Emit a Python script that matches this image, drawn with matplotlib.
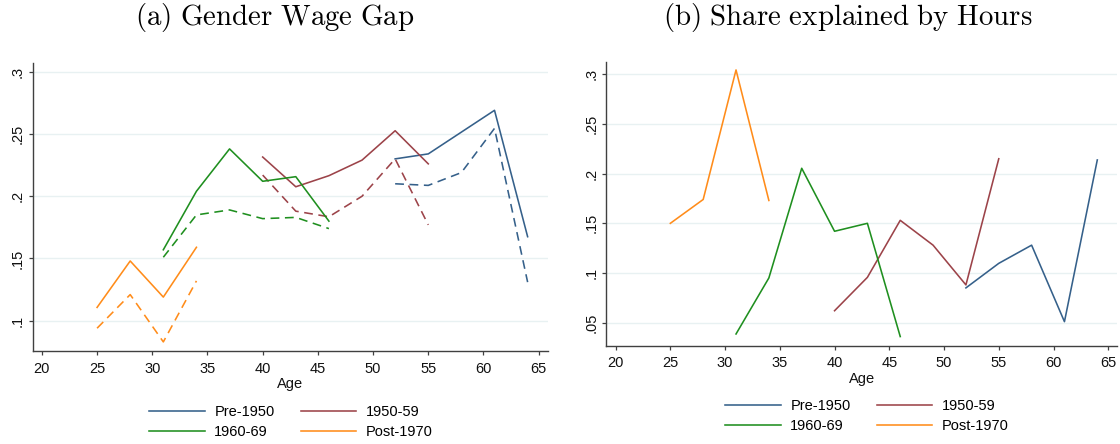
import numpy as np
import matplotlib
matplotlib.use('Agg')
from matplotlib import pyplot as plt

plt.rcParams['font.family'] = ['Liberation Sans', 'DejaVu Sans']
plt.rcParams['mathtext.fontset'] = 'cm'

# cohort colours
cohorts = ['Pre-1950', '1950-59', '1960-69', 'Post-1970']
colors = {'Pre-1950': '#35608a', '1950-59': '#9c4349',
          '1960-69': '#1f8f1f', 'Post-1970': '#ff8c1a'}

ages = {'Pre-1950': [52, 55, 58, 61, 64],
        '1950-59': [40, 43, 46, 49, 52, 55],
        '1960-69': [31, 34, 37, 40, 43, 46],
        'Post-1970': [25, 28, 31, 34]}

# (a) gender wage gap: raw (solid) and adjusted (dashed)
gap_raw = {'Pre-1950': [0.230, 0.234, 0.2515, 0.269, 0.1675],
           '1950-59': [0.2315, 0.2076, 0.2165, 0.229, 0.2526, 0.226],
           '1960-69': [0.157, 0.204, 0.238, 0.212, 0.2157, 0.180],
           'Post-1970': [0.1107, 0.148, 0.119, 0.159]}
gap_adj = {'Pre-1950': [0.210, 0.2087, 0.219, 0.2545, 0.131],
           '1950-59': [0.217, 0.188, 0.1835, 0.200, 0.230, 0.177],
           '1960-69': [0.151, 0.185, 0.189, 0.182, 0.183, 0.174],
           'Post-1970': [0.094, 0.121, 0.083, 0.132]}

# (b) share explained by hours
share_hours = {'Pre-1950': [0.085, 0.1097, 0.128, 0.051, 0.2138],
               '1950-59': [0.062, 0.0956, 0.153, 0.128, 0.088, 0.215],
               '1960-69': [0.0386, 0.095, 0.2054, 0.142, 0.150, 0.036],
               'Post-1970': [0.150, 0.174, 0.3044, 0.173]}

xticks = [20, 25, 30, 35, 40, 45, 50, 55, 60, 65]
yticks_a = [0.1, 0.15, 0.2, 0.25, 0.3]
ylabels_a = ['.1', '.15', '.2', '.25', '.3']
yticks_b = [0.05, 0.1, 0.15, 0.2, 0.25, 0.3]
ylabels_b = ['.05', '.1', '.15', '.2', '.25', '.3']

fig = plt.figure(figsize=(11.2, 4.44), dpi=100)
ax1 = fig.add_axes([32.5 / 1120, 1 - 351 / 444, 515 / 1120, 288 / 444])
ax2 = fig.add_axes([606.3 / 1120, 1 - 345.7 / 444, 510.7 / 1120, 284 / 444])


def style(ax, yticks, ylabels, ylim):
    ax.set_xlim(19.15, 65.8)
    ax.set_ylim(*ylim)
    ax.set_xticks(xticks)
    ax.set_yticks(yticks)
    ax.set_yticklabels(ylabels, rotation=90, va='center')
    for s in ['top', 'right']:
        ax.spines[s].set_visible(False)
    for s in ['left', 'bottom']:
        ax.spines[s].set_color('#404040')
        ax.spines[s].set_linewidth(1.0)
    ax.tick_params(axis='both', length=3.2, width=0.9, color='#404040',
                   labelsize=10.5, labelcolor='#111111')
    ax.tick_params(axis='x', pad=4.5)
    ax.tick_params(axis='y', pad=2.5)
    ax.yaxis.grid(True, color='#e8f1f2', linewidth=1.0)
    ax.set_axisbelow(True)
    ax.set_xlabel('Age', fontsize=10.5, labelpad=1, color='#111111')


lw = 1.15
for c in cohorts:
    ax1.plot(ages[c], gap_raw[c], color=colors[c], lw=lw, label=c)
    ax1.plot(ages[c], gap_adj[c], color=colors[c], lw=lw, dashes=(5.5, 3.5))
    ax2.plot(ages[c], share_hours[c], color=colors[c], lw=lw, label=c)

style(ax1, yticks_a, ylabels_a, (0.0757, 0.307))
style(ax2, yticks_b, ylabels_b, (0.0268, 0.3127))

# legend filled row by row, as in the original
order = [0, 2, 1, 3]
for ax, (cx, cy) in [(ax1, (291 / 1120, 1 - 422 / 444)),
                     (ax2, (867 / 1120, 1 - 416 / 444))]:
    h, l = ax.get_legend_handles_labels()
    fig.legend([h[i] for i in order], [l[i] for i in order],
               loc='center', bbox_to_anchor=(cx, cy), ncol=2,
               frameon=False, fontsize=10.5, handlelength=3.8,
               handletextpad=0.65, columnspacing=1.8, labelspacing=0.45,
               borderpad=0)

fig.text(275 / 1120, 1 - 18 / 444, r'$\mathrm{(a)\ Gender\ Wage\ Gap}$',
         ha='center', va='center', fontsize=20.8)
fig.text(848 / 1120, 1 - 18 / 444, r'$\mathrm{(b)\ Share\ explained\ by\ Hours}$',
         ha='center', va='center', fontsize=20.8)

fig.savefig('out.png', dpi=100)
